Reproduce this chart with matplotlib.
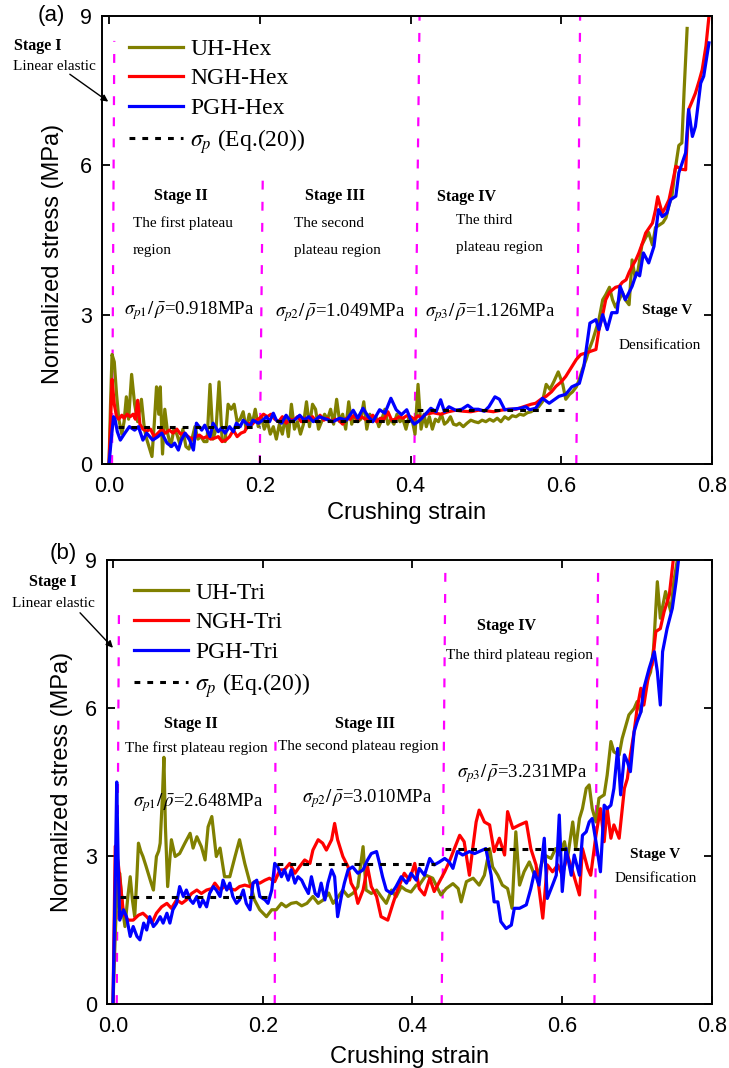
import numpy as np
import matplotlib.pyplot as plt

plt.rcParams['font.family'] = ['Liberation Sans', 'DejaVu Sans']
plt.rcParams['mathtext.fontset'] = 'stix'

# ---- (a) hexagonal cores: strain, normalized stress (MPa) ----
uh_hex = np.array([
    [0.000, 0.00], [0.002, 1.20], [0.004, 2.20], [0.007, 2.05], [0.010, 1.40], [0.013, 0.90],
    [0.017, 0.60], [0.020, 0.85], [0.023, 1.35], [0.026, 0.90], [0.030, 1.80], [0.034, 1.20],
    [0.038, 0.85], [0.043, 1.30], [0.047, 0.70], [0.050, 0.50], [0.054, 0.30], [0.057, 0.15],
    [0.060, 0.80], [0.063, 1.55], [0.066, 1.00], [0.068, 1.55], [0.071, 0.20], [0.074, 1.10],
    [0.078, 0.60], [0.082, 0.35], [0.086, 0.70], [0.090, 0.60], [0.094, 0.40], [0.098, 0.70],
    [0.102, 0.35], [0.106, 0.30], [0.110, 0.50], [0.114, 0.75], [0.118, 0.50], [0.122, 0.55],
    [0.126, 0.45], [0.130, 0.45], [0.134, 1.60], [0.138, 0.50], [0.142, 0.70], [0.146, 1.65],
    [0.150, 0.50], [0.154, 0.45], [0.158, 1.20], [0.162, 1.10], [0.166, 1.20], [0.170, 0.85],
    [0.174, 0.90], [0.178, 1.05], [0.182, 0.70], [0.186, 1.00], [0.190, 0.80], [0.194, 1.10],
    [0.198, 0.75], [0.202, 0.95], [0.206, 0.70], [0.210, 0.85], [0.214, 0.60], [0.218, 0.75],
    [0.222, 0.50], [0.226, 0.80], [0.230, 0.60], [0.234, 0.95], [0.238, 0.55], [0.242, 1.20],
    [0.246, 0.70], [0.250, 0.85], [0.254, 0.60], [0.258, 0.80], [0.262, 1.25], [0.266, 0.75],
    [0.270, 1.20], [0.274, 1.10], [0.278, 0.70], [0.282, 0.85], [0.286, 1.00], [0.290, 0.90],
    [0.294, 1.10], [0.298, 0.80], [0.302, 1.30], [0.306, 0.85], [0.310, 1.00], [0.314, 0.70],
    [0.318, 1.25], [0.322, 0.80], [0.326, 1.00], [0.330, 0.85], [0.334, 0.90], [0.338, 1.25],
    [0.342, 0.70], [0.346, 1.00], [0.350, 0.85], [0.354, 0.95], [0.358, 0.75], [0.362, 0.90],
    [0.366, 1.10], [0.370, 0.80], [0.374, 0.90], [0.378, 0.80], [0.382, 1.00], [0.386, 0.85],
    [0.390, 0.90], [0.394, 0.70], [0.398, 0.95], [0.402, 0.90], [0.406, 0.60], [0.410, 1.60],
    [0.414, 0.70], [0.418, 1.00], [0.421, 0.75], [0.425, 0.95], [0.429, 0.70], [0.433, 0.90],
    [0.437, 0.85], [0.441, 1.00], [0.445, 0.80], [0.449, 0.85], [0.453, 0.95], [0.457, 0.80],
    [0.461, 0.78], [0.465, 0.82], [0.470, 0.75], [0.475, 0.82], [0.480, 0.88], [0.485, 0.85],
    [0.490, 0.83], [0.495, 0.88], [0.500, 0.85], [0.505, 0.90], [0.510, 0.86], [0.515, 0.92],
    [0.520, 0.85], [0.525, 0.95], [0.530, 0.90], [0.535, 0.97], [0.540, 0.95], [0.545, 1.00],
    [0.550, 0.98], [0.555, 1.03], [0.560, 1.05], [0.565, 1.10], [0.570, 1.15], [0.575, 1.25],
    [0.580, 1.60], [0.585, 1.50], [0.590, 1.65], [0.596, 1.85], [0.602, 1.60], [0.606, 1.30],
    [0.611, 1.40], [0.615, 1.45], [0.620, 1.55], [0.624, 1.70], [0.628, 1.90], [0.633, 2.10],
    [0.637, 2.30], [0.642, 2.50], [0.646, 2.70], [0.650, 2.90], [0.655, 3.30], [0.659, 3.40],
    [0.664, 3.55], [0.668, 3.30], [0.672, 3.15], [0.677, 3.30], [0.681, 3.45], [0.685, 3.30],
    [0.690, 3.20], [0.694, 4.10], [0.698, 3.75], [0.702, 3.90], [0.707, 4.40], [0.712, 4.55],
    [0.716, 4.65], [0.721, 4.40], [0.725, 4.75], [0.730, 4.80], [0.735, 4.85], [0.739, 4.95],
    [0.743, 5.20], [0.747, 5.40], [0.751, 5.90], [0.756, 6.40], [0.760, 6.45], [0.763, 7.50],
    [0.767, 8.75]])

ngh_hex = np.array([
    [0.000, 0.00], [0.002, 0.80], [0.004, 1.70], [0.007, 1.20], [0.010, 0.95], [0.013, 0.90],
    [0.017, 0.98], [0.020, 0.92], [0.024, 1.00], [0.028, 0.95], [0.032, 1.00], [0.035, 0.90],
    [0.038, 1.28], [0.041, 0.80], [0.045, 0.70], [0.050, 0.66], [0.055, 0.70], [0.060, 0.55],
    [0.065, 0.62], [0.070, 0.70], [0.075, 0.62], [0.080, 0.68], [0.085, 0.62], [0.090, 0.70],
    [0.095, 0.60], [0.100, 0.62], [0.105, 0.55], [0.110, 0.50], [0.115, 0.55], [0.120, 0.58],
    [0.125, 0.52], [0.130, 0.55], [0.135, 0.50], [0.140, 0.52], [0.145, 0.55], [0.150, 0.45],
    [0.155, 0.48], [0.160, 0.55], [0.165, 0.68], [0.170, 0.55], [0.175, 0.62], [0.180, 0.65],
    [0.185, 0.82], [0.190, 0.80], [0.195, 0.88], [0.200, 0.92], [0.205, 1.00], [0.210, 0.95],
    [0.215, 1.00], [0.220, 0.90], [0.225, 0.85], [0.230, 0.95], [0.235, 0.82], [0.240, 0.90],
    [0.245, 0.88], [0.250, 0.95], [0.255, 0.85], [0.260, 0.92], [0.265, 0.88], [0.270, 0.95],
    [0.275, 0.85], [0.280, 0.98], [0.285, 0.88], [0.290, 0.92], [0.295, 0.85], [0.300, 0.90],
    [0.305, 0.88], [0.310, 0.80], [0.315, 0.92], [0.320, 0.90], [0.325, 0.98], [0.330, 0.88],
    [0.335, 0.95], [0.340, 0.90], [0.345, 0.92], [0.350, 0.98], [0.355, 0.85], [0.360, 0.92],
    [0.365, 0.90], [0.370, 1.05], [0.375, 0.88], [0.380, 0.90], [0.385, 0.95], [0.390, 0.92],
    [0.395, 0.97], [0.400, 0.95], [0.405, 0.90], [0.410, 0.97], [0.415, 0.93], [0.420, 1.00],
    [0.430, 1.03], [0.440, 1.00], [0.450, 1.05], [0.460, 1.08], [0.470, 1.06], [0.480, 1.05],
    [0.490, 1.08], [0.500, 1.07], [0.510, 1.05], [0.520, 1.08], [0.530, 1.10], [0.540, 1.10],
    [0.550, 1.15], [0.560, 1.20], [0.566, 1.22], [0.573, 1.30], [0.580, 1.36], [0.587, 1.45],
    [0.593, 1.56], [0.600, 1.65], [0.606, 1.76], [0.613, 1.93], [0.620, 2.10], [0.626, 2.20],
    [0.633, 2.23], [0.640, 2.27], [0.646, 2.30], [0.650, 2.70], [0.655, 3.00], [0.659, 3.30],
    [0.664, 3.45], [0.668, 3.50], [0.672, 3.55], [0.677, 3.57], [0.681, 3.65], [0.686, 3.70],
    [0.690, 3.85], [0.694, 3.97], [0.699, 4.10], [0.703, 4.24], [0.708, 4.45], [0.712, 4.64],
    [0.717, 4.75], [0.721, 4.84], [0.725, 5.10], [0.728, 5.37], [0.731, 5.20], [0.734, 5.04],
    [0.738, 5.15], [0.743, 5.31], [0.747, 5.60], [0.752, 5.98], [0.756, 5.95], [0.760, 5.92],
    [0.765, 5.91], [0.769, 7.12], [0.774, 7.30], [0.778, 7.45], [0.783, 7.70], [0.787, 7.92],
    [0.792, 8.40], [0.796, 9.00]])

pgh_hex = np.array([
    [0.000, 0.00], [0.003, 0.50], [0.006, 0.95], [0.008, 0.90], [0.011, 0.65], [0.015, 0.48],
    [0.021, 0.62], [0.027, 0.75], [0.034, 0.68], [0.039, 0.75], [0.045, 0.48], [0.050, 0.62],
    [0.058, 0.48], [0.065, 0.55], [0.070, 0.62], [0.077, 0.42], [0.083, 0.35], [0.087, 0.42],
    [0.092, 0.28], [0.096, 0.48], [0.101, 0.62], [0.107, 0.48], [0.112, 0.28], [0.116, 0.82],
    [0.123, 0.68], [0.127, 0.78], [0.134, 0.55], [0.138, 0.82], [0.145, 0.65], [0.149, 0.72],
    [0.154, 0.62], [0.160, 0.75], [0.165, 0.65], [0.169, 0.82], [0.174, 0.75], [0.178, 0.88],
    [0.182, 0.82], [0.187, 0.75], [0.191, 0.88], [0.198, 0.82], [0.204, 0.88], [0.209, 0.95],
    [0.213, 0.85], [0.218, 1.02], [0.222, 0.88], [0.229, 0.82], [0.235, 0.98], [0.241, 0.85],
    [0.246, 0.88], [0.253, 0.98], [0.259, 0.88], [0.265, 0.95], [0.271, 0.85], [0.279, 0.95],
    [0.288, 0.90], [0.297, 0.85], [0.306, 0.92], [0.315, 0.88], [0.324, 1.08], [0.330, 0.92],
    [0.337, 1.12], [0.344, 0.95], [0.350, 0.85], [0.359, 1.09], [0.366, 1.02], [0.374, 1.32],
    [0.381, 1.09], [0.388, 0.99], [0.395, 1.09], [0.400, 0.90], [0.405, 0.80], [0.410, 0.85],
    [0.415, 0.92], [0.421, 1.02], [0.427, 1.12], [0.434, 1.05], [0.440, 1.29], [0.445, 1.05],
    [0.451, 1.15], [0.460, 1.08], [0.468, 1.10], [0.476, 1.18], [0.483, 1.10], [0.490, 1.10],
    [0.498, 1.06], [0.504, 1.15], [0.512, 1.35], [0.518, 1.30], [0.525, 1.09], [0.532, 1.10],
    [0.546, 1.12], [0.553, 1.15], [0.558, 1.09], [0.566, 1.12], [0.575, 1.32], [0.584, 1.22],
    [0.597, 1.36], [0.606, 1.40], [0.614, 1.55], [0.624, 1.62], [0.630, 1.96], [0.635, 2.50],
    [0.638, 2.83], [0.646, 2.90], [0.650, 2.70], [0.655, 3.00], [0.661, 2.70], [0.667, 3.04],
    [0.674, 3.04], [0.678, 3.57], [0.685, 3.30], [0.694, 3.57], [0.700, 3.84], [0.704, 3.78],
    [0.709, 4.24], [0.716, 4.04], [0.723, 4.37], [0.729, 5.11], [0.734, 4.97], [0.740, 5.04],
    [0.745, 5.31], [0.752, 5.38], [0.756, 5.85], [0.765, 6.25], [0.769, 7.12], [0.774, 6.58],
    [0.778, 6.78], [0.785, 7.65], [0.789, 7.79], [0.796, 8.46]])

# ---- (b) triangular cores ----
uh_tri = np.array([
    [0.000, 0.00], [0.003, 1.40], [0.006, 2.50], [0.009, 2.65], [0.013, 1.90], [0.016, 1.57],
    [0.020, 2.20], [0.023, 2.58], [0.026, 2.10], [0.029, 1.77], [0.032, 2.60], [0.034, 3.26],
    [0.037, 3.10], [0.040, 2.99], [0.044, 2.80], [0.047, 2.65], [0.051, 2.45], [0.054, 2.31],
    [0.058, 2.99], [0.061, 3.10], [0.063, 3.26], [0.066, 4.20], [0.068, 5.00], [0.070, 3.60],
    [0.073, 2.38], [0.078, 3.33], [0.083, 2.99], [0.089, 3.05], [0.096, 3.26], [0.103, 3.46],
    [0.107, 3.16], [0.112, 3.39], [0.118, 3.19], [0.123, 2.92], [0.127, 3.59], [0.132, 3.80],
    [0.138, 2.99], [0.143, 3.16], [0.149, 2.58], [0.156, 2.58], [0.163, 2.99], [0.169, 3.33],
    [0.176, 2.85], [0.183, 2.45], [0.189, 2.11], [0.196, 1.91], [0.205, 1.77], [0.212, 1.91],
    [0.218, 1.91], [0.225, 2.04], [0.231, 1.97], [0.238, 2.04], [0.245, 2.06], [0.252, 1.99],
    [0.259, 2.04], [0.267, 2.18], [0.274, 2.04], [0.281, 2.11], [0.288, 2.25], [0.294, 2.04],
    [0.301, 2.18], [0.307, 2.31], [0.314, 2.18], [0.321, 2.25], [0.327, 2.38], [0.334, 3.19],
    [0.338, 2.31], [0.345, 2.24], [0.352, 2.31], [0.358, 2.18], [0.365, 2.04], [0.372, 2.31],
    [0.378, 2.17], [0.385, 2.38], [0.391, 2.31], [0.398, 2.27], [0.405, 2.41], [0.409, 2.41],
    [0.418, 2.61], [0.427, 2.55], [0.438, 2.21], [0.445, 2.34], [0.454, 2.44], [0.461, 2.34],
    [0.465, 2.07], [0.472, 2.48], [0.481, 2.55], [0.489, 2.41], [0.496, 2.61], [0.503, 3.15],
    [0.507, 2.78], [0.514, 2.61], [0.520, 2.41], [0.527, 2.34], [0.533, 1.94], [0.538, 3.49],
    [0.543, 2.41], [0.549, 2.68], [0.556, 2.88], [0.563, 2.61], [0.569, 2.68], [0.576, 3.02],
    [0.585, 2.95], [0.591, 3.15], [0.596, 3.02], [0.603, 3.29], [0.607, 2.95], [0.614, 3.69],
    [0.618, 3.15], [0.623, 3.76], [0.627, 3.96], [0.632, 4.37], [0.636, 4.44], [0.640, 3.96],
    [0.645, 3.69], [0.649, 4.17], [0.656, 4.24], [0.660, 4.64], [0.665, 5.32], [0.669, 5.11],
    [0.676, 5.05], [0.680, 5.38], [0.685, 5.65], [0.689, 5.86], [0.696, 5.99], [0.700, 6.13],
    [0.705, 5.92], [0.711, 6.46], [0.718, 6.73], [0.722, 7.21], [0.727, 8.56], [0.731, 7.82],
    [0.738, 8.36], [0.745, 7.95], [0.749, 8.56], [0.754, 9.03]])

ngh_tri = np.array([
    [0.000, 0.00], [0.003, 3.20], [0.007, 2.85], [0.014, 1.84], [0.020, 1.70], [0.027, 1.70],
    [0.034, 1.80], [0.040, 1.84], [0.045, 1.77], [0.052, 1.64], [0.058, 1.84], [0.065, 1.97],
    [0.072, 2.04], [0.078, 1.94], [0.085, 2.11], [0.092, 2.04], [0.098, 2.11], [0.105, 2.24],
    [0.112, 2.31], [0.118, 2.24], [0.125, 2.31], [0.132, 2.34], [0.136, 2.45], [0.143, 2.31],
    [0.149, 2.38], [0.156, 2.34], [0.163, 2.31], [0.169, 2.38], [0.176, 2.41], [0.183, 2.38],
    [0.189, 2.48], [0.196, 2.45], [0.203, 2.51], [0.209, 2.55], [0.216, 2.48], [0.223, 2.72],
    [0.229, 2.72], [0.236, 2.85], [0.243, 2.65], [0.249, 2.78], [0.256, 2.92], [0.263, 2.85],
    [0.267, 3.12], [0.274, 3.33], [0.280, 3.26], [0.285, 3.12], [0.292, 3.33], [0.296, 3.66],
    [0.300, 3.33], [0.307, 2.99], [0.314, 2.78], [0.318, 2.45], [0.323, 2.31], [0.327, 2.04],
    [0.334, 2.31], [0.340, 2.78], [0.345, 2.38], [0.352, 2.18], [0.358, 1.77], [0.367, 1.70],
    [0.374, 2.04], [0.380, 2.31], [0.389, 2.65], [0.396, 2.51], [0.403, 2.85], [0.409, 2.34],
    [0.416, 2.21], [0.423, 2.55], [0.429, 2.28], [0.436, 2.48], [0.443, 2.68], [0.449, 2.88],
    [0.456, 3.15], [0.463, 3.42], [0.469, 3.29], [0.476, 2.61], [0.481, 3.22], [0.485, 3.69],
    [0.489, 3.93], [0.496, 3.69], [0.503, 3.63], [0.509, 3.09], [0.516, 3.36], [0.523, 3.02],
    [0.527, 3.90], [0.534, 3.56], [0.543, 3.63], [0.552, 3.69], [0.558, 3.15], [0.565, 2.82],
    [0.569, 2.34], [0.574, 1.74], [0.580, 2.82], [0.587, 2.68], [0.594, 2.82], [0.600, 2.61],
    [0.607, 3.02], [0.614, 2.68], [0.623, 2.21], [0.627, 3.15], [0.634, 2.75], [0.638, 2.61],
    [0.645, 3.42], [0.651, 3.96], [0.656, 3.29], [0.660, 3.96], [0.665, 3.36], [0.669, 3.63],
    [0.676, 3.36], [0.683, 4.37], [0.687, 4.57], [0.691, 5.05], [0.696, 5.52], [0.700, 5.99],
    [0.705, 6.40], [0.709, 6.06], [0.716, 6.74], [0.720, 6.87], [0.725, 7.55], [0.731, 7.61],
    [0.736, 7.95], [0.743, 8.29], [0.747, 8.83], [0.749, 9.10]])

pgh_tri = np.array([
    [0.000, 0.00], [0.003, 2.50], [0.005, 4.50], [0.007, 2.80], [0.009, 1.70], [0.014, 1.91],
    [0.018, 1.77], [0.023, 1.37], [0.027, 1.57], [0.032, 1.37], [0.036, 1.30], [0.041, 1.64],
    [0.045, 1.50], [0.049, 1.77], [0.054, 1.57], [0.058, 1.64], [0.063, 1.77], [0.067, 1.64],
    [0.072, 1.84], [0.076, 1.64], [0.080, 1.91], [0.085, 2.04], [0.089, 2.38], [0.094, 2.18],
    [0.098, 2.31], [0.103, 2.11], [0.107, 2.04], [0.112, 2.18], [0.116, 1.97], [0.120, 2.11],
    [0.125, 1.97], [0.129, 2.24], [0.134, 2.38], [0.138, 2.31], [0.143, 2.18], [0.147, 2.51],
    [0.152, 2.31], [0.156, 2.45], [0.160, 2.18], [0.165, 2.04], [0.169, 2.11], [0.174, 2.31],
    [0.178, 2.04], [0.183, 1.91], [0.187, 2.45], [0.192, 2.51], [0.196, 2.18], [0.203, 2.11],
    [0.207, 2.04], [0.212, 2.31], [0.216, 2.85], [0.220, 2.78], [0.225, 2.58], [0.229, 2.72],
    [0.234, 2.51], [0.238, 2.72], [0.243, 2.45], [0.247, 2.58], [0.252, 2.51], [0.256, 2.38],
    [0.261, 2.24], [0.265, 2.58], [0.270, 2.24], [0.274, 2.18], [0.278, 2.45], [0.283, 2.11],
    [0.287, 2.45], [0.292, 2.72], [0.296, 2.58], [0.300, 1.77], [0.305, 2.18], [0.309, 2.45],
    [0.314, 2.72], [0.320, 2.78], [0.327, 2.65], [0.334, 2.72], [0.340, 2.92], [0.345, 3.05],
    [0.352, 3.09], [0.356, 2.85], [0.360, 2.58], [0.365, 2.31], [0.372, 2.24], [0.378, 2.38],
    [0.385, 2.58], [0.392, 2.45], [0.398, 2.65], [0.405, 2.51], [0.409, 2.75], [0.416, 2.61],
    [0.423, 2.95], [0.429, 2.82], [0.436, 2.88], [0.443, 2.95], [0.449, 2.88], [0.454, 2.75],
    [0.460, 3.09], [0.467, 3.02], [0.476, 3.09], [0.483, 3.05], [0.489, 3.09], [0.498, 3.15],
    [0.505, 2.61], [0.509, 2.07], [0.514, 2.07], [0.518, 1.67], [0.525, 1.53], [0.532, 1.60],
    [0.536, 1.94], [0.543, 1.94], [0.552, 2.01], [0.558, 2.34], [0.563, 2.68], [0.569, 2.41],
    [0.576, 3.36], [0.580, 2.14], [0.587, 2.41], [0.592, 2.61], [0.596, 3.83], [0.600, 2.28],
    [0.605, 3.15], [0.612, 2.61], [0.616, 3.02], [0.623, 2.61], [0.627, 3.42], [0.632, 3.49],
    [0.636, 3.69], [0.640, 3.76], [0.645, 3.29], [0.651, 2.68], [0.656, 4.03], [0.660, 3.96],
    [0.665, 4.03], [0.669, 4.37], [0.674, 5.18], [0.678, 4.24], [0.683, 5.05], [0.687, 4.91],
    [0.691, 4.71], [0.696, 5.52], [0.700, 5.72], [0.705, 5.92], [0.709, 6.40], [0.716, 6.80],
    [0.723, 7.14], [0.727, 6.74], [0.731, 6.06], [0.734, 7.14], [0.740, 7.61], [0.747, 8.02],
    [0.752, 8.56], [0.756, 9.10]])

# sigma_p from Eq.(20): (start strain, end strain, level) per plateau
sigp_hex = [(0.012, 0.200, 0.745), (0.204, 0.405, 0.865), (0.409, 0.607, 1.087)]
sigp_tri = [(0.009, 0.213, 2.17), (0.219, 0.430, 2.84), (0.443, 0.627, 3.14)]

# stage boundaries: (strain at bottom, strain at top, top stress)
bounds_hex = [(0.004, 0.007, 8.5), (0.200, 0.204, 5.8), (0.405, 0.412, 9.0), (0.620, 0.625, 9.0)]
bounds_tri = [(0.005, 0.008, 8.1), (0.216, 0.217, 5.4), (0.439, 0.444, 9.0), (0.643, 0.648, 9.0)]

plateau_hex = ['0.918', '1.049', '1.126']
plateau_tri = ['2.648', '3.010', '3.231']

OLIVE, RED, BLUE, MAGENTA = '#808000', '#ff0000', '#0000ff', '#ff00ff'
SERIF = ['Liberation Serif', 'DejaVu Serif']

fig = plt.figure(figsize=(7.29, 10.68), dpi=100)
ax1 = fig.add_axes([102/729, 1-464/1068, 610/729, 448/1068])
ax2 = fig.add_axes([107/729, 1-1004/1068, 605/729, 444/1068])


def draw_panel(ax, curves, names, sigp, bounds, xmin):
    for b0, b1, top in bounds:
        ax.plot([b0, b1], [0, top], color=MAGENTA, lw=1.6, dashes=(4, 5.5), zorder=1)
    for data, name, c in zip(curves, names, (OLIVE, RED, BLUE)):
        ax.plot(data[:, 0], data[:, 1], color=c, lw=2.3, label=name, zorder=2)
    for i, (s0, s1, lev) in enumerate(sigp):
        ax.plot([s0, s1], [lev, lev], color='black', lw=2.2, dashes=(1.9, 2.3), zorder=3,
                label=r'$\sigma_p$ (Eq.(20))' if i == 0 else None)
    ax.set_xlim(xmin, 0.8)
    ax.set_ylim(0, 9)
    ax.set_xticks([0.0, 0.2, 0.4, 0.6, 0.8])
    ax.set_yticks([0, 3, 6, 9])
    ax.set_xticklabels(['0.0', '0.2', '0.4', '0.6', '0.8'])
    ax.tick_params(direction='in', top=True, right=True, length=5.5, width=1.3,
                   labelsize=15.5)
    ax.tick_params(axis='x', pad=9)
    ax.tick_params(axis='y', pad=7)
    for sp in ax.spines.values():
        sp.set_linewidth(1.4)
    ax.set_xlabel('Crushing strain', fontsize=17)
    ax.set_ylabel('Normalized stress (MPa)', fontsize=17)
    ax.legend(loc='upper left', frameon=False, prop={'family': SERIF, 'size': 17},
              handlelength=2.3, handletextpad=0.3, labelspacing=0.34,
              borderpad=0, borderaxespad=0, bbox_to_anchor=(0.044, 0.95))


draw_panel(ax1, (uh_hex, ngh_hex, pgh_hex), ('UH-Hex', 'NGH-Hex', 'PGH-Hex'),
           sigp_hex, bounds_hex, -0.0093)
draw_panel(ax2, (uh_tri, ngh_tri, pgh_tri), ('UH-Tri', 'NGH-Tri', 'PGH-Tri'),
           sigp_tri, bounds_tri, -0.008)
ax1.xaxis.labelpad = 3
ax2.xaxis.labelpad = 6
ax1.yaxis.set_label_coords(-0.062, 0.47)
ax2.yaxis.set_label_coords(-0.056, 0.5)

fig.text(51/729, 1-16/1068, '(a)', fontsize=16, ha='center', va='center')
fig.text(63/729, 1-553/1068, '(b)', fontsize=16, ha='center', va='center')

bold = dict(family=SERIF, fontsize=11.5, fontweight='bold', ha='center', va='center')
norm = dict(family=SERIF, fontsize=11, va='center')
arrow = dict(arrowstyle='-|>', color='black', lw=1.0, mutation_scale=10, shrinkA=0, shrinkB=0)

# panel (a) annotations
ax1.text(-0.094, 8.39, 'Stage I', **bold)
ax1.text(-0.072, 7.99, 'Linear elastic', ha='center', **norm)
ax1.annotate('', xy=(-0.001, 7.28), xytext=(-0.052, 7.83), arrowprops=arrow,
             annotation_clip=False)
ax1.text(0.095, 5.39, 'Stage II', **bold)
ax1.text(0.032, 4.83, 'The first plateau', **norm)
ax1.text(0.032, 4.29, 'region', **norm)
ax1.text(0.300, 5.39, 'Stage III', **bold)
ax1.text(0.246, 4.83, 'The second', **norm)
ax1.text(0.246, 4.29, 'plateau region', **norm)
ax1.text(0.474, 5.37, 'Stage IV', **bold)
ax1.text(0.461, 4.89, 'The third', **norm)
ax1.text(0.461, 4.35, 'plateau region', **norm)
ax1.text(0.740, 3.08, 'Stage V', **dict(bold, fontsize=11))
ax1.text(0.730, 2.39, 'Densification', ha='center', **norm)
for i, (x, y) in enumerate([(0.020, 3.08), (0.220, 3.04), (0.419, 3.04)]):
    ax1.text(x, y, r'$\sigma_{p%d}/\,\bar{\rho}$' % (i + 1) + '=' + plateau_hex[i] + 'MPa',
             family=SERIF, fontsize=13.5, va='center')

# panel (b) annotations
ax2.text(-0.080, 8.55, 'Stage I', **bold)
ax2.text(-0.080, 8.11, 'Linear elastic', ha='center', **norm)
ax2.annotate('', xy=(0.0, 7.22), xytext=(-0.044, 7.93), arrowprops=arrow,
             annotation_clip=False)
ax2.text(0.104, 5.68, 'Stage II', **bold)
ax2.text(0.016, 5.19, 'The first plateau region', **norm)
ax2.text(0.336, 5.68, 'Stage III', **bold)
ax2.text(0.221, 5.21, 'The second plateau region', **norm)
ax2.text(0.525, 7.66, 'Stage IV', **bold)
ax2.text(0.445, 7.07, 'The third plateau region', **norm)
ax2.text(0.724, 3.04, 'Stage V', **dict(bold, fontsize=11))
ax2.text(0.725, 2.55, 'Densification', ha='center', **norm)
for i, (x, y) in enumerate([(0.027, 4.09), (0.253, 4.17), (0.459, 4.68)]):
    ax2.text(x, y, r'$\sigma_{p%d}/\,\bar{\rho}$' % (i + 1) + '=' + plateau_tri[i] + 'MPa',
             family=SERIF, fontsize=13.5, va='center')

fig.savefig('out.png', dpi=100)
